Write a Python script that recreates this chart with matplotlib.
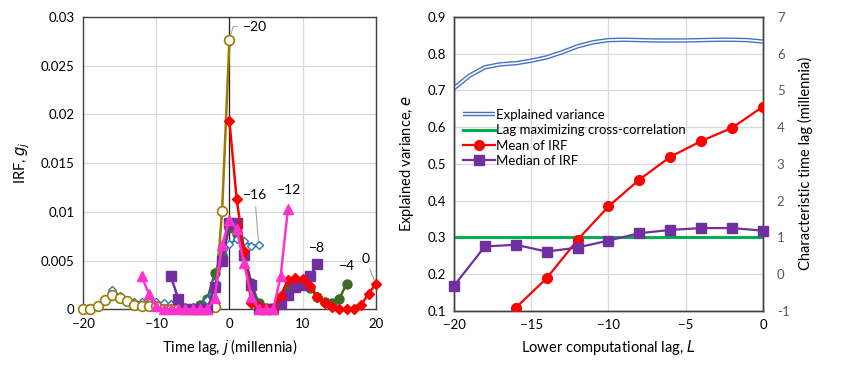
import matplotlib
matplotlib.use("Agg")
import matplotlib.pyplot as plt
import numpy as np
from matplotlib.legend_handler import HandlerTuple

plt.rcParams['font.family'] = ['Lato', 'DejaVu Sans']
plt.rcParams['font.size'] = 9

# ---------------- Left panel data: IRFs g_j for several lower lags L ----------------
irf_labels = ["\u221220", "\u221216", "\u221212", "\u22128", "\u22124", "0"]
irf_L = [-20, -16, -12, -8, -4, 0]

g_m20 = [0, 0, 0.00037, 0.00096, 0.00147, 0.0012, 0.00089, 0.00044, 0.00034, 0.00034,
         0.0003, 0, 0, 0, 0, 0, 0, 0, 0.0002, 0.01006, 0.0276]
g_m16 = [0.0020, 0.0014, 0.0010, 0.0008, 0.0007, 0.0008, 0.0007, 0.0006, 0.0005, 0.0004,
         0.0002, 0.0002, 0.0002, 0.0010, 0.0028, 0.0050, 0.0067, 0.0072, 0.0070, 0.0065, 0.0066]
g_m12 = [0.0034, 0.0016, 0.0003, 0, 0, 0, 0, 0, 0, 0, 0.0012, 0.0066, 0.0092, 0.0082,
         0.0047, 0.0013, 0, 0, 0, 0.0034, 0.0103]
g_m8 = [0.0034, 0.0011, 0, 0, 0, 0, 0.0023, 0.0050, 0.0089, 0.0089, 0.0056, 0.0025, 0, 0,
        0, 0.0005, 0.0015, 0.0023, 0.0025, 0.0034, 0.0046]
g_m4 = [0.0004, 0.0011, 0.0037, 0.0056, 0.0083, 0.0077, 0.0056, 0.0027, 0.0006, 0.0001,
        0.0001, 0.0012, 0.0022, 0.0029, 0.0028, 0.0022, 0.0013, 0.0007, 0.0006, 0.0011, 0.0026]
g_0 = [0.01934, 0.01127, 0.0060, 0.0006, 0.0003, 0, 0, 0.0014, 0.0030, 0.0032, 0.0031,
       0.0024, 0.0013, 0.0006, 0.0002, 0, 0, 0, 0.00045, 0.0016, 0.0026]

# ---------------- Right panel data ----------------
L_fine = [-20, -19, -18, -17, -16, -15, -14, -13, -12, -11, -10, -9, -8, -7, -6, -5, -4, -3, -2, -1, 0]
expl_var = [0.706, 0.740, 0.763, 0.771, 0.774, 0.781, 0.790, 0.804, 0.820, 0.831, 0.837, 0.838,
            0.837, 0.836, 0.836, 0.836, 0.837, 0.838, 0.838, 0.837, 0.833]
L_coarse = [-20, -18, -16, -14, -12, -10, -8, -6, -4, -2, 0]
lag_xcorr = [0.3] * len(L_coarse)
L_mean = [-18, -16, -14, -12, -10, -8, -6, -4, -2, 0]
mean_irf = [-1.72, -0.92, -0.115, 0.93, 1.84, 2.57, 3.19, 3.62, 3.98, 4.56]
median_irf = [-0.32, 0.75, 0.795, 0.61, 0.72, 0.91, 1.11, 1.2, 1.25, 1.25, 1.18]

fig = plt.figure(figsize=(8.44, 3.65), dpi=100)

# ---------------- Left panel ----------------
ax1 = fig.add_axes([0.0983, 0.1526, 0.347, 0.801])
ax1.set_xlim(-20, 20)
ax1.set_ylim(0, 0.03)
ax1.grid(True, color='#d9d9d9', linewidth=0.9)
ax1.set_axisbelow(True)
ax1.axvline(0, color='#222222', linewidth=0.9, zorder=1)

gold = '#9C7A06'
styles = {
    -20: dict(color=gold, marker='o', mfc='white', mec=gold, ms=7, lw=1.8, mew=1.2),
    -16: dict(color='#2E75B6', marker='D', mfc='white', mec='#2E75B6', ms=4.5, lw=1.5, mew=1.0),
    -12: dict(color='#FF33CC', marker='^', mfc='#FF33CC', mec='#FF33CC', ms=7, lw=1.8),
    -8: dict(color='#7030A0', marker='s', mfc='#7030A0', mec='#7030A0', ms=7.5, lw=1.8),
    -4: dict(color='#3E6B28', marker='o', mfc='#3E6B28', mec='#3E6B28', ms=6.5, lw=1.8),
    0: dict(color='#FF0000', marker='D', mfc='#FF0000', mec='#FF0000', ms=5, lw=1.8),
}
series = {-20: g_m20, -16: g_m16, -12: g_m12, -8: g_m8, -4: g_m4, 0: g_0}
zorders = {-4: 4, -16: 5, -20: 5.5, -8: 6, 0: 7, -12: 8}
for L in [-4, -16, -20, -8, 0, -12]:
    j = np.arange(L, L + 21)
    ax1.plot(j, series[L], zorder=zorders[L], clip_on=False, **styles[L])

# labels with leader lines
lead = dict(arrowstyle='-', color='#a6a6a6', lw=0.8)
ax1.annotate(irf_labels[0], xy=(0, g_m20[-1]), xytext=(1.9, 0.0290), fontsize=10,
             arrowprops=dict(lead, connectionstyle='angle,angleA=0,angleB=75,rad=0', shrinkB=4),
             va='center', ha='left', zorder=10)
ax1.annotate(irf_labels[1], xy=(4, g_m16[-1]), xytext=(1.8, 0.0117), fontsize=10,
             arrowprops=dict(lead, shrinkB=3, shrinkA=2),
             va='center', ha='left', zorder=10)
ax1.text(6.5, 0.0122, irf_labels[2], fontsize=10, va='center', ha='left', zorder=10)
ax1.text(11.9, 0.0063, irf_labels[3], fontsize=10, va='center', ha='center', zorder=10)
ax1.text(16.0, 0.0044, irf_labels[4], fontsize=10, va='center', ha='center', zorder=10)
ax1.annotate(irf_labels[5], xy=(20, g_0[-1]), xytext=(18.6, 0.0052), fontsize=10,
             arrowprops=dict(lead, shrinkB=3, shrinkA=1),
             va='center', ha='center', zorder=10)

ax1.set_xticks([-20, -10, 0, 10, 20])
ax1.set_xticklabels(["\u221220", "\u221210", "0", "10", "20"])
ax1.set_yticks([0, 0.005, 0.01, 0.015, 0.02, 0.025, 0.03])
ax1.set_yticklabels(["0", "0.005", "0.01", "0.015", "0.02", "0.025", "0.03"])
ax1.tick_params(length=0, pad=6, labelsize=9.5)
for s in ax1.spines.values():
    s.set_color('#404040')
    s.set_linewidth(1.0)
ax1.set_xlabel("Time lag, $j$ (millennia)", fontsize=10.5, labelpad=5)
ax1.set_ylabel("IRF, $g_j$", fontsize=10.5, labelpad=6)

# ---------------- Right panel ----------------
ax2 = fig.add_axes([0.5379, 0.1488, 0.3661, 0.8047])
ax2.set_xlim(-20, 0)
ax2.set_ylim(0.1, 0.9)
ax2.grid(True, color='#d9d9d9', linewidth=0.9)
ax2.set_axisbelow(True)

ax3 = ax2.twinx()
ax3.set_ylim(-1, 7)

blue = '#4472C4'
l_ev_outer, = ax2.plot(L_fine, expl_var, color=blue, lw=3.2, zorder=3, solid_capstyle='butt')
l_ev_inner, = ax2.plot(L_fine, expl_var, color='white', lw=1.2, zorder=3.1, solid_capstyle='butt')
l_green, = ax2.plot(L_coarse, lag_xcorr, color='#00B050', lw=2.2, zorder=3)
l_mean, = ax3.plot(L_mean, mean_irf, color='#FF0000', marker='o', ms=7, lw=1.6, zorder=4)
l_med, = ax3.plot(L_coarse, median_irf, color='#7030A0', marker='s', ms=7, lw=1.6, zorder=4,
                  clip_on=False)

leg = ax2.legend([(l_ev_outer, l_ev_inner), l_green, l_mean, l_med],
                 ["Explained variance", "Lag maximizing cross-correlation", "Mean of IRF", "Median of IRF"],
                 handler_map={tuple: HandlerTuple(ndivide=1, pad=0)},
                 loc='upper left', bbox_to_anchor=(0.0, 0.718), frameon=False, fontsize=9.5,
                 handlelength=2.4, handletextpad=0.1, labelspacing=0.25, borderaxespad=0.3)

ax2.set_xticks([-20, -15, -10, -5, 0])
ax2.set_xticklabels(["\u221220", "\u221215", "\u221210", "\u22125", "0"])
ax2.set_yticks([0.1, 0.2, 0.3, 0.4, 0.5, 0.6, 0.7, 0.8, 0.9])
ax2.set_yticklabels(["0.1", "0.2", "0.3", "0.4", "0.5", "0.6", "0.7", "0.8", "0.9"])
ax3.set_yticks([-1, 0, 1, 2, 3, 4, 5, 6, 7])
ax3.set_yticklabels(["-1", "0", "1", "2", "3", "4", "5", "6", "7"])
ax2.tick_params(length=0, pad=6, labelsize=9.5)
ax3.tick_params(length=0, pad=10, labelsize=9.5, labelcolor='#595959')
for ax in (ax2, ax3):
    for s in ax.spines.values():
        s.set_color('#404040')
        s.set_linewidth(1.0)
ax2.set_xlabel("Lower computational lag, $L$", fontsize=10.5, labelpad=5)
ax2.set_ylabel("Explained variance, $e$", fontsize=10.5, labelpad=8)
ax3.set_ylabel("Characteristic time lag (millennia)", fontsize=10.5, labelpad=6)

fig.savefig("out.png", dpi=100)
